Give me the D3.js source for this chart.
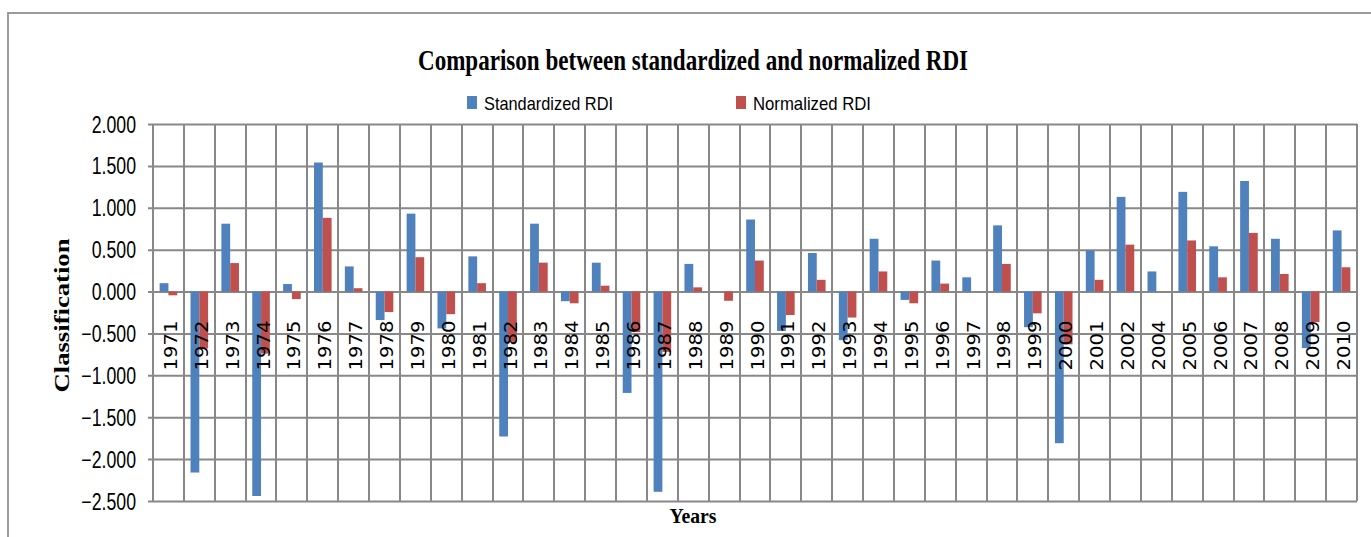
<!DOCTYPE html>
<html>
<head>
<meta charset="utf-8">
<script src="https://cdn.jsdelivr.net/npm/d3@7"></script>
<style>
  body { margin: 0; background: #fff; }
  svg { display: block; }
</style>
</head>
<body>
<div id="chart"></div>
<script>
// data
const years = [1971, 1972, 1973, 1974, 1975, 1976, 1977, 1978, 1979, 1980,
    1981, 1982, 1983, 1984, 1985, 1986, 1987, 1988, 1989, 1990,
    1991, 1992, 1993, 1994, 1995, 1996, 1997, 1998, 1999, 2000,
    2001, 2002, 2004, 2005, 2006, 2007, 2008, 2009, 2010]
const standardized = [0.10, -2.16, 0.81, -2.44, 0.09, 1.54, 0.30, -0.34, 0.93, -0.44,
    0.42, -1.73, 0.81, -0.115, 0.345, -1.21, -2.39, 0.33, 0, 0.86,
    -0.47, 0.46, -0.58, 0.63, -0.10, 0.37, 0.17, 0.79, -0.425, -1.81,
    0.49, 1.13, 0.24, 1.19, 0.54, 1.32, 0.63, -0.675, 0.73]
const normalized = [-0.045, -0.68, 0.34, -0.74, -0.09, 0.88, 0.04, -0.245, 0.41, -0.27,
    0.10, -0.60, 0.345, -0.14, 0.07, -0.485, -0.72, 0.05, -0.11, 0.37,
    -0.28, 0.14, -0.31, 0.24, -0.14, 0.095, 0, 0.33, -0.26, -0.63,
    0.14, 0.56, 0, 0.61, 0.17, 0.70, 0.21, -0.365, 0.29]
const seriesNames = ["Standardized RDI", "Normalized RDI"]
const seriesColors = ["#4f81bd", "#c0504d"]
const yTicks = [2, 1.5, 1, 0.5, 0, -0.5, -1, -1.5, -2, -2.5]

const width = 1371
const height = 537
const margin = {top: 124, right: 14, bottom: 36, left: 153}
const boundedWidth = width - margin.left - margin.right
const boundedHeight = height - margin.top - margin.bottom

const gridColor = "#888888"

// squeeze text along its length, the original is a stretched screenshot
function fitText(sel, factor) {
    sel.each(function() {
        const w = this.getComputedTextLength()
        this.setAttribute("textLength", w * factor)
        this.setAttribute("lengthAdjust", "spacingAndGlyphs")
    })
}
function setLength(sel, len) {
    sel.attr("textLength", len).attr("lengthAdjust", "spacingAndGlyphs")
}

const svg = d3.select("#chart").append("svg")
    .attr("width", width)
    .attr("height", height)

// outer frame
svg.append("rect")
    .attr("x", 8).attr("y", 13)
    .attr("width", width + 10).attr("height", height)
    .attr("fill", "none")
    .attr("stroke", "#9a9a9a")
    .attr("stroke-width", 2)

const bounds = svg.append("g")
    .attr("transform", `translate(${margin.left},${margin.top})`)

// scales
const x = d3.scaleBand()
    .domain(years)
    .range([0, boundedWidth])
    .paddingInner(0.43)
    .paddingOuter(0.215)
const xSub = d3.scaleBand()
    .domain([0, 1])
    .range([0, x.bandwidth()])
const y = d3.scaleLinear()
    .domain([-2.5, 2])
    .range([boundedHeight, 0])

// horizontal grid + y axis
const yAxis = d3.axisLeft(y)
    .tickValues(yTicks)
    .tickSize(-boundedWidth - 5)
    .tickFormat(d3.format(".3f"))
const yAxisGroup = bounds.append("g")
    .attr("transform", "translate(-5,0)")
    .call(yAxis)
yAxisGroup.select(".domain").remove()
yAxisGroup.selectAll(".tick line")
    .attr("stroke", gridColor)
    .attr("stroke-width", 2)
    .attr("x1", 0)
yAxisGroup.selectAll(".tick text")
    .attr("x", -12)
    .attr("dy", "0.35em")
    .attr("fill", "#000")
    .style("font-family", "'Liberation Sans', Arial, sans-serif")
    .style("font-size", "23px")
    .call(fitText, 0.77)

// vertical grid at category boundaries
const step = x.step()
const boundaries = d3.range(years.length + 1).map(i => Math.round(i * step))
bounds.append("g").selectAll("line")
    .data(boundaries)
    .join("line")
    .attr("x1", d => d).attr("x2", d => d)
    .attr("y1", 0).attr("y2", boundedHeight)
    .attr("stroke", gridColor)
    .attr("stroke-width", 2)

// bars
const rows = years.map((yr, i) => ({year: yr, values: [standardized[i], normalized[i]]}))
const groups = bounds.selectAll(".year")
    .data(rows)
    .join("g")
    .attr("class", "year")
    .attr("transform", d => `translate(${x(d.year)},0)`)
groups.selectAll("rect")
    .data(d => d.values.map((v, k) => ({k, v})))
    .join("rect")
    .attr("x", d => xSub(d.k))
    .attr("width", xSub.bandwidth())
    .attr("y", d => y(Math.max(0, d.v)))
    .attr("height", d => Math.abs(y(d.v) - y(0)))
    .attr("fill", d => seriesColors[d.k])

// year labels next to the zero line
bounds.append("g").selectAll("text")
    .data(years)
    .join("text")
    .attr("transform", d => `translate(${x(d) + x.bandwidth() / 2 + 8.5},${y(0) + 79}) rotate(-90)`)
    .attr("text-anchor", "start")
    .style("font-family", "'DejaVu Sans', Verdana, sans-serif")
    .style("font-size", "17px")
    .attr("fill", "#000")
    .text(d => d)
    .call(setLength, 50)

// title
svg.append("text")
    .attr("x", 693)
    .attr("y", 70)
    .attr("text-anchor", "middle")
    .style("font-family", "'Liberation Serif', 'Times New Roman', serif")
    .style("font-weight", "bold")
    .style("font-size", "30px")
    .text("Comparison between standardized and normalized RDI")
    .call(setLength, 550)

// legend
const legendX = [467, 736]
const legendLen = [129, 118]
const legend = svg.append("g")
legend.selectAll("rect")
    .data(seriesNames)
    .join("rect")
    .attr("x", (d, i) => legendX[i])
    .attr("y", 96)
    .attr("width", 10)
    .attr("height", 13)
    .attr("fill", (d, i) => seriesColors[i])
legend.selectAll("text")
    .data(seriesNames)
    .join("text")
    .attr("x", (d, i) => legendX[i] + 17)
    .attr("y", 110)
    .style("font-family", "'Liberation Sans', Arial, sans-serif")
    .style("font-size", "19px")
    .text(d => d)
    .attr("textLength", (d, i) => legendLen[i])
    .attr("lengthAdjust", "spacingAndGlyphs")

// axis titles
svg.append("text")
    .attr("transform", `translate(69,${margin.top + boundedHeight / 2 + 3}) rotate(-90)`)
    .attr("text-anchor", "middle")
    .style("font-family", "'Liberation Serif', 'Times New Roman', serif")
    .style("font-weight", "bold")
    .style("font-size", "20px")
    .text("Classification")
    .call(setLength, 154)

svg.append("text")
    .attr("x", 693)
    .attr("y", 523)
    .attr("text-anchor", "middle")
    .style("font-family", "'Liberation Serif', 'Times New Roman', serif")
    .style("font-weight", "bold")
    .style("font-size", "22px")
    .text("Years")
    .call(setLength, 47)
</script>
</body>
</html>
